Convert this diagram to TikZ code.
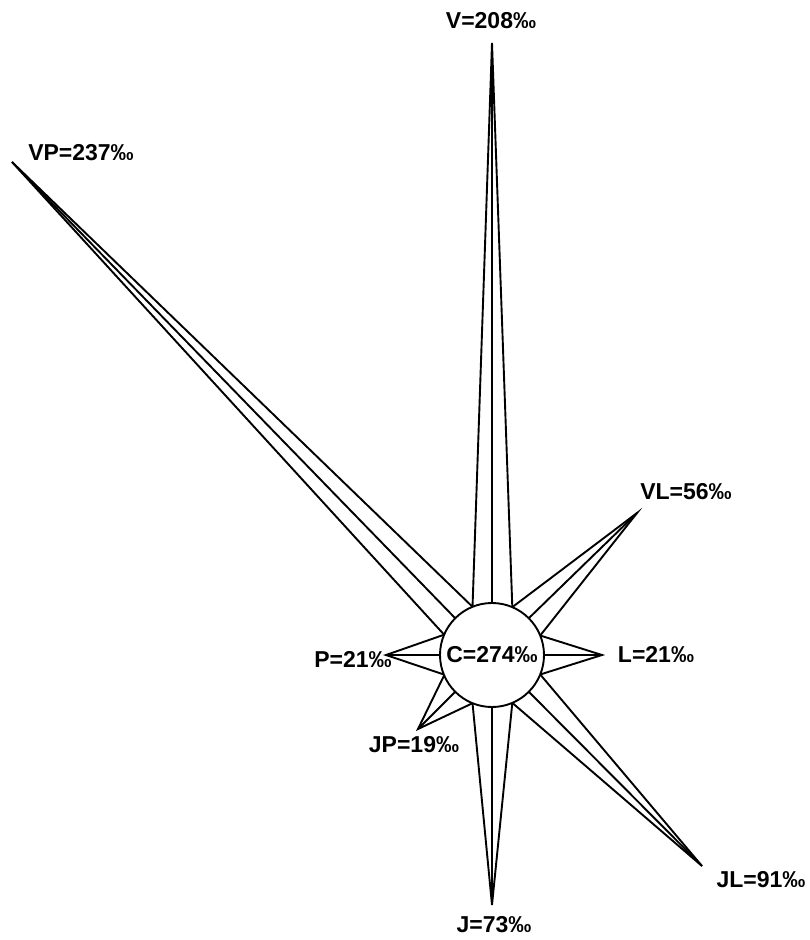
\documentclass[tikz,border=0pt]{standalone}
\usepackage{fontspec}
\setmainfont{Liberation Sans}
\usetikzlibrary{calc}
\begin{document}
\begin{tikzpicture}[x=1pt,y=-1pt,
  ray/.style={draw=black,line width=1.9pt},
  hub/.style={circle,draw=black,fill=white,line width=1.9pt,minimum size=104pt,inner sep=0pt,outer sep=0pt},
  lbl/.style={font=\bfseries\fontsize{23}{27}\selectfont,inner sep=0pt}]
\useasboundingbox (0,0) rectangle (809,940);
\node[hub,lbl] (C) at (492,655) {C=274‰};
% tips
\coordinate (tV) at (492,43);
\coordinate (tVL) at (637,513);
\coordinate (tL) at (602,655);
\coordinate (tJL) at (702,866);
\coordinate (tJ) at (492,905);
\coordinate (tJP) at (418,729);
\coordinate (tP) at (386,655);
\coordinate (tVP) at (12,162);
\foreach \t/\a in {tV/90,tVL/45,tL/0,tJL/-45,tJ/-90,tJP/-135,tP/180,tVP/135}{
  \pgfmathsetmacro{\lo}{\a-22.5}
  \pgfmathsetmacro{\hi}{\a+22.5}
  \draw[ray] (C.\lo) -- (\t) -- (C.\hi);
  \draw[ray] (C.\a) -- (\t);
}
% labels
\node[lbl] (lV) at (491,21) {V=208‰};
\node[lbl] (lVP) at (81,153) {VP=237‰};
\node[lbl] (lVL) at (686,492) {VL=56‰};
\node[lbl] (lL) at (656,654) {L=21‰};
\node[lbl] (lJL) at (761,880) {JL=91‰};
\node[lbl] (lJ) at (494,925) {J=73‰};
\node[lbl] (lJP) at (414,745) {JP=19‰};
\node[lbl] (lP) at (353,659) {P=21‰};
\end{tikzpicture}
\end{document}
